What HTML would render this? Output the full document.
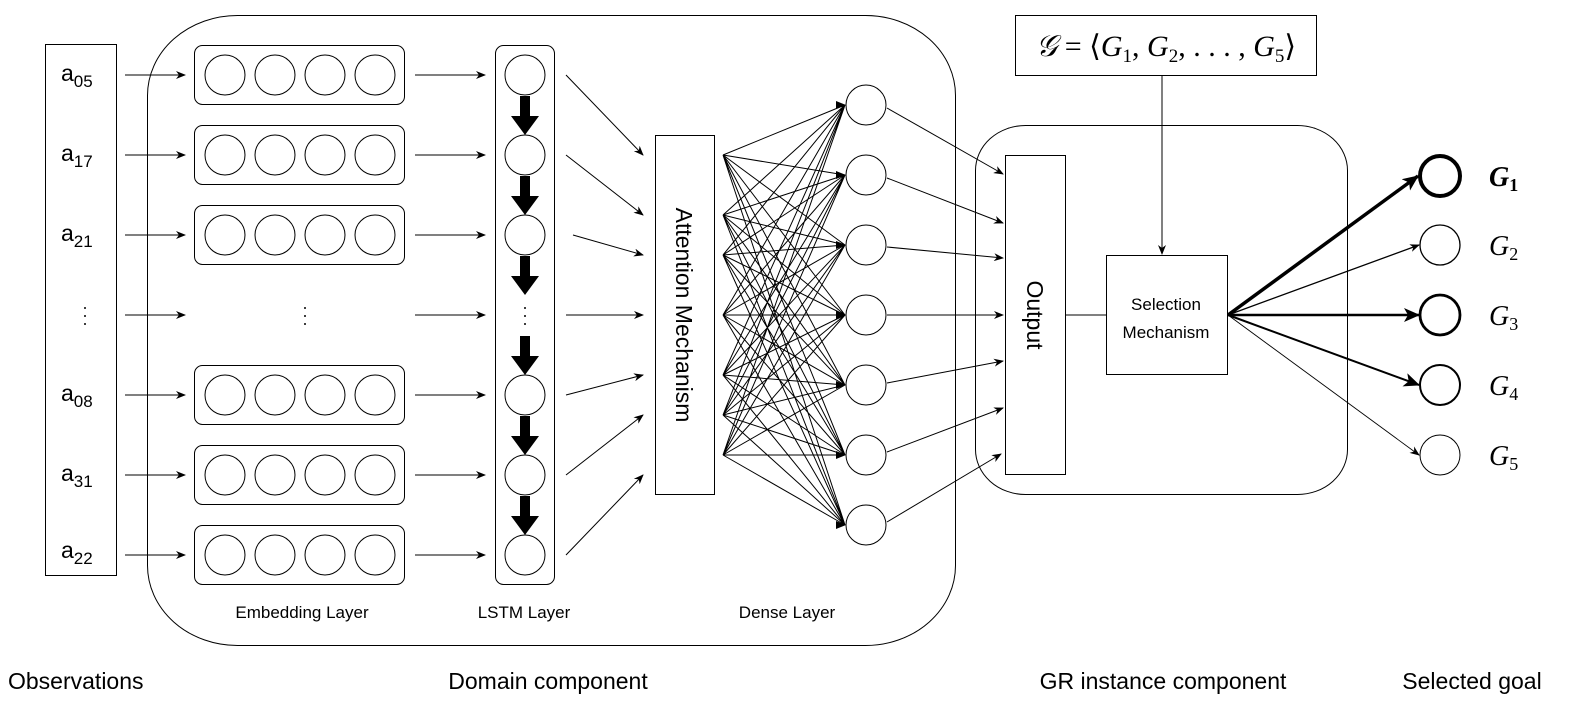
<!DOCTYPE html>
<html><head><meta charset="utf-8"><style>
html,body{margin:0;padding:0;background:#fff;}
svg{display:block;font-family:"Liberation Sans",sans-serif;}
.s{fill:none;stroke:#000;stroke-width:1;}
.g{font-family:"Liberation Serif",serif;font-style:italic;font-size:28px;}
.g tspan.sub{font-style:normal;font-size:18px;}
</style></head><body>
<svg width="1571" height="701" viewBox="0 0 1571 701" xmlns="http://www.w3.org/2000/svg">
<defs>
<marker id="a" markerWidth="10" markerHeight="8" refX="9" refY="4" orient="auto" markerUnits="userSpaceOnUse"><path d="M0,0 L10,4 L0,8 L3,4 z" fill="#000"/></marker>
<marker id="b" markerWidth="16" markerHeight="14" refX="15" refY="7" orient="auto" markerUnits="userSpaceOnUse"><path d="M0,0 L16,7 L0,14 L4,7 z" fill="#000"/></marker>
</defs>

<rect x="45.5" y="44.5" width="71" height="531" class="s"/>
<g font-size="23">
<text x="61" y="81">a<tspan font-size="17" dy="6">05</tspan></text>
<text x="61" y="161">a<tspan font-size="17" dy="6">17</tspan></text>
<text x="61" y="241">a<tspan font-size="17" dy="6">21</tspan></text>
<text x="61" y="401">a<tspan font-size="17" dy="6">08</tspan></text>
<text x="61" y="481">a<tspan font-size="17" dy="6">31</tspan></text>
<text x="61" y="558">a<tspan font-size="17" dy="6">22</tspan></text>
</g>
<g fill="#000"><circle cx="85" cy="308" r="1"/><circle cx="85" cy="316" r="1"/><circle cx="85" cy="324" r="1"/>
<circle cx="305" cy="308" r="1"/><circle cx="305" cy="316" r="1"/><circle cx="305" cy="324" r="1"/>
<circle cx="525" cy="308" r="1"/><circle cx="525" cy="316" r="1"/><circle cx="525" cy="324" r="1"/></g>

<rect x="147.5" y="15.5" width="808" height="630" rx="90" ry="80" class="s"/>

<g class="s">
<rect x="194.5" y="45.5" width="210" height="59" rx="8"/>
<rect x="194.5" y="125.5" width="210" height="59" rx="8"/>
<rect x="194.5" y="205.5" width="210" height="59" rx="8"/>
<rect x="194.5" y="365.5" width="210" height="59" rx="8"/>
<rect x="194.5" y="445.5" width="210" height="59" rx="8"/>
<rect x="194.5" y="525.5" width="210" height="59" rx="8"/>
</g>
<g class="s">
<circle cx="225" cy="75" r="20"/><circle cx="275" cy="75" r="20"/><circle cx="325" cy="75" r="20"/><circle cx="375" cy="75" r="20"/>
<circle cx="225" cy="155" r="20"/><circle cx="275" cy="155" r="20"/><circle cx="325" cy="155" r="20"/><circle cx="375" cy="155" r="20"/>
<circle cx="225" cy="235" r="20"/><circle cx="275" cy="235" r="20"/><circle cx="325" cy="235" r="20"/><circle cx="375" cy="235" r="20"/>
<circle cx="225" cy="395" r="20"/><circle cx="275" cy="395" r="20"/><circle cx="325" cy="395" r="20"/><circle cx="375" cy="395" r="20"/>
<circle cx="225" cy="475" r="20"/><circle cx="275" cy="475" r="20"/><circle cx="325" cy="475" r="20"/><circle cx="375" cy="475" r="20"/>
<circle cx="225" cy="555" r="20"/><circle cx="275" cy="555" r="20"/><circle cx="325" cy="555" r="20"/><circle cx="375" cy="555" r="20"/>
</g>

<g class="s" marker-end="url(#a)">
<line x1="125" y1="75" x2="185" y2="75"/><line x1="125" y1="155" x2="185" y2="155"/><line x1="125" y1="235" x2="185" y2="235"/>
<line x1="125" y1="315" x2="185" y2="315"/><line x1="125" y1="395" x2="185" y2="395"/><line x1="125" y1="475" x2="185" y2="475"/><line x1="125" y1="555" x2="185" y2="555"/>
<line x1="415" y1="75" x2="485" y2="75"/><line x1="415" y1="155" x2="485" y2="155"/><line x1="415" y1="235" x2="485" y2="235"/>
<line x1="415" y1="315" x2="485" y2="315"/><line x1="415" y1="395" x2="485" y2="395"/><line x1="415" y1="475" x2="485" y2="475"/><line x1="415" y1="555" x2="485" y2="555"/>
</g>

<rect x="495.5" y="45.5" width="59" height="539" rx="8" class="s"/>
<g class="s">
<circle cx="525" cy="75" r="20"/><circle cx="525" cy="155" r="20"/><circle cx="525" cy="235" r="20"/>
<circle cx="525" cy="395" r="20"/><circle cx="525" cy="475" r="20"/><circle cx="525" cy="555" r="20"/>
</g>
<g fill="#000">
<path d="M520,96 h10 v20 h9 l-14,19 l-14,-19 h9 z"/>
<path d="M520,176 h10 v20 h9 l-14,19 l-14,-19 h9 z"/>
<path d="M520,256 h10 v20 h9 l-14,19 l-14,-19 h9 z"/>
<path d="M520,336 h10 v20 h9 l-14,19 l-14,-19 h9 z"/>
<path d="M520,416 h10 v20 h9 l-14,19 l-14,-19 h9 z"/>
<path d="M520,496 h10 v20 h9 l-14,19 l-14,-19 h9 z"/>
</g>

<g class="s" marker-end="url(#a)">
<line x1="566" y1="75" x2="643" y2="155"/>
<line x1="566" y1="155" x2="643" y2="215"/>
<line x1="573" y1="235" x2="643" y2="255"/>
<line x1="566" y1="315" x2="643" y2="315"/>
<line x1="566" y1="395" x2="643" y2="375"/>
<line x1="566" y1="475" x2="643" y2="415"/>
<line x1="566" y1="555" x2="643" y2="475"/>
</g>

<rect x="655.5" y="135.5" width="59" height="359" class="s"/>
<text x="0" y="0" font-size="23" text-anchor="middle" transform="translate(676,315) rotate(90)">Attention Mechanism</text>

<path class="s" stroke-width="0.9" d="
M723,155L845,105 M723,155L845,175 M723,155L845,245 M723,155L845,315 M723,155L845,385 M723,155L845,455 M723,155L845,525
M723,215L845,105 M723,215L845,175 M723,215L845,245 M723,215L845,315 M723,215L845,385 M723,215L845,455 M723,215L845,525
M723,255L845,105 M723,255L845,175 M723,255L845,245 M723,255L845,315 M723,255L845,385 M723,255L845,455 M723,255L845,525
M723,315L845,105 M723,315L845,175 M723,315L845,245 M723,315L845,315 M723,315L845,385 M723,315L845,455 M723,315L845,525
M723,375L845,105 M723,375L845,175 M723,375L845,245 M723,375L845,315 M723,375L845,385 M723,375L845,455 M723,375L845,525
M723,415L845,105 M723,415L845,175 M723,415L845,245 M723,415L845,315 M723,415L845,385 M723,415L845,455 M723,415L845,525
M723,455L845,105 M723,455L845,175 M723,455L845,245 M723,455L845,315 M723,455L845,385 M723,455L845,455 M723,455L845,525"/>
<g fill="#000">
<path d="M846,105 l-10,-4 l0,8 z"/><path d="M846,175 l-10,-4 l0,8 z"/><path d="M846,245 l-10,-4 l0,8 z"/>
<path d="M846,315 l-10,-4 l0,8 z"/><path d="M846,385 l-10,-4 l0,8 z"/><path d="M846,455 l-10,-4 l0,8 z"/><path d="M846,525 l-10,-4 l0,8 z"/>
</g>
<g class="s" style="fill:#fff">
<circle cx="866" cy="105" r="20"/><circle cx="866" cy="175" r="20"/><circle cx="866" cy="245" r="20"/>
<circle cx="866" cy="315" r="20"/><circle cx="866" cy="385" r="20"/><circle cx="866" cy="455" r="20"/><circle cx="866" cy="525" r="20"/>
</g>

<g class="s" marker-end="url(#a)">
<line x1="887" y1="108" x2="1003" y2="174"/>
<line x1="887" y1="178" x2="1003" y2="223"/>
<line x1="887" y1="247" x2="1003" y2="258"/>
<line x1="887" y1="315" x2="1003" y2="315"/>
<line x1="887" y1="383" x2="1003" y2="361"/>
<line x1="887" y1="452" x2="1003" y2="408"/>
<line x1="887" y1="522" x2="1001" y2="454"/>
</g>

<rect x="975.5" y="125.5" width="372" height="369" rx="50" ry="45" class="s"/>
<rect x="1005.5" y="155.5" width="60" height="319" class="s" style="fill:#fff"/>
<text x="0" y="0" font-size="23" text-anchor="middle" transform="translate(1027,315) rotate(90)">Output</text>
<line x1="1066" y1="315" x2="1106" y2="315" class="s"/>

<rect x="1015.5" y="15.5" width="301" height="60" class="s"/>
<text x="1166" y="56" font-family="Liberation Serif, serif" font-size="30" text-anchor="middle"><tspan font-style="italic">𝒢</tspan> = ⟨<tspan font-style="italic">G</tspan><tspan font-size="19" dy="6">1</tspan><tspan dy="-6">, </tspan><tspan font-style="italic">G</tspan><tspan font-size="19" dy="6">2</tspan><tspan dy="-6">, . . . , </tspan><tspan font-style="italic">G</tspan><tspan font-size="19" dy="6">5</tspan><tspan dy="-6">⟩</tspan></text>
<line x1="1162" y1="76" x2="1162" y2="254" class="s" marker-end="url(#a)"/>

<rect x="1106.5" y="255.5" width="121" height="119" class="s"/>
<text x="1166" y="310" font-size="17" text-anchor="middle">Selection</text>
<text x="1166" y="338" font-size="17" text-anchor="middle">Mechanism</text>

<line x1="1228" y1="315" x2="1418" y2="176" stroke="#000" stroke-width="3.5" marker-end="url(#b)"/>
<line x1="1228" y1="315" x2="1419" y2="245" stroke="#000" stroke-width="1.3" marker-end="url(#a)"/>
<line x1="1228" y1="315" x2="1419" y2="315" stroke="#000" stroke-width="2.6" marker-end="url(#b)"/>
<line x1="1228" y1="315" x2="1419" y2="385" stroke="#000" stroke-width="2" marker-end="url(#b)"/>
<line x1="1228" y1="315" x2="1419" y2="455" stroke="#000" stroke-width="0.9" marker-end="url(#a)"/>
<circle cx="1440" cy="176" r="20" fill="none" stroke="#000" stroke-width="4"/>
<circle cx="1440" cy="245" r="20" fill="none" stroke="#000" stroke-width="1.3"/>
<circle cx="1440" cy="315" r="20" fill="none" stroke="#000" stroke-width="2.8"/>
<circle cx="1440" cy="385" r="20" fill="none" stroke="#000" stroke-width="2"/>
<circle cx="1440" cy="455" r="20" fill="none" stroke="#000" stroke-width="1"/>
<g class="g">
<text x="1489" y="186" font-weight="bold">G<tspan class="sub" dy="5" font-weight="bold">1</tspan></text>
<text x="1489" y="255">G<tspan class="sub" dy="5">2</tspan></text>
<text x="1489" y="325">G<tspan class="sub" dy="5">3</tspan></text>
<text x="1489" y="395">G<tspan class="sub" dy="5">4</tspan></text>
<text x="1489" y="465">G<tspan class="sub" dy="5">5</tspan></text>
</g>

<g font-size="17" text-anchor="middle">
<text x="302" y="618">Embedding Layer</text>
<text x="524" y="618">LSTM Layer</text>
<text x="787" y="618">Dense Layer</text>
</g>
<g font-size="23">
<text x="8" y="689">Observations</text>
<text x="548" y="689" text-anchor="middle">Domain component</text>
<text x="1163" y="689" text-anchor="middle">GR instance component</text>
<text x="1472" y="689" text-anchor="middle">Selected goal</text>
</g>
</svg>
</body></html>
